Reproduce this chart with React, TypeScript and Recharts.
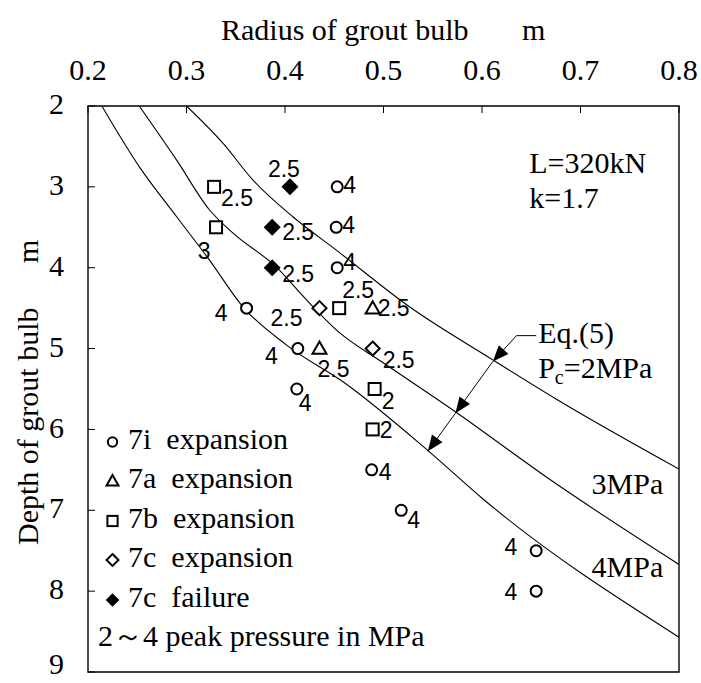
import React from "react";
import {
  ComposedChart,
  Line,
  Scatter,
  XAxis,
  YAxis,
  ReferenceArea,
  ReferenceDot,
  Legend,
} from "recharts";

const serif = "'Liberation Serif', 'Times New Roman', serif";
const sans = "'Liberation Sans', Arial, sans-serif";

const xTicks = [0.2, 0.3, 0.4, 0.5, 0.6, 0.7, 0.8];
const yTicks = [2, 3, 4, 5, 6, 7, 8, 9];

// Eq.(5) curves: radius of grout bulb (m) against depth (m)
const curve2MPa = [
  { x: 0.3, y: 2.0 }, { x: 0.337, y: 2.46 }, { x: 0.367, y: 2.91 }, { x: 0.408, y: 3.37 },
  { x: 0.455, y: 3.81 }, { x: 0.526, y: 4.48 }, { x: 0.611, y: 5.14 }, { x: 0.676, y: 5.63 },
  { x: 0.8, y: 6.49 },
];
const curve3MPa = [
  { x: 0.252, y: 2.0 }, { x: 0.29, y: 2.67 }, { x: 0.323, y: 3.28 }, { x: 0.347, y: 3.57 },
  { x: 0.391, y: 3.99 }, { x: 0.422, y: 4.4 }, { x: 0.455, y: 4.8 }, { x: 0.499, y: 5.17 },
  { x: 0.574, y: 5.79 }, { x: 0.669, y: 6.62 }, { x: 0.8, y: 7.67 },
];
const curve4MPa = [
  { x: 0.214, y: 2.0 }, { x: 0.252, y: 2.75 }, { x: 0.29, y: 3.37 }, { x: 0.323, y: 3.9 },
  { x: 0.357, y: 4.48 }, { x: 0.402, y: 4.96 }, { x: 0.46, y: 5.42 }, { x: 0.544, y: 6.25 },
  { x: 0.601, y: 6.86 }, { x: 0.8, y: 8.57 },
];

// test results, p = peak pressure in MPa
const s7i = [
  { x: 0.453, y: 3.0, p: "4" }, { x: 0.452, y: 3.5, p: "4" }, { x: 0.453, y: 4.0, p: "4" },
  { x: 0.361, y: 4.5, p: "4" }, { x: 0.413, y: 5.0, p: "4" }, { x: 0.412, y: 5.5, p: "4" },
  { x: 0.488, y: 6.5, p: "4" }, { x: 0.518, y: 7.0, p: "4" }, { x: 0.655, y: 7.5, p: "4" },
  { x: 0.655, y: 8.0, p: "4" },
];
const s7a = [
  { x: 0.489, y: 4.5, p: "2.5" }, { x: 0.435, y: 5.0, p: "2.5" },
];
const s7b = [
  { x: 0.328, y: 3.0, p: "2.5" }, { x: 0.33, y: 3.5, p: "3" }, { x: 0.455, y: 4.5, p: "2.5" },
  { x: 0.491, y: 5.5, p: "2" }, { x: 0.489, y: 6.0, p: "2" },
];
const s7cExp = [
  { x: 0.435, y: 4.5, p: "2.5" }, { x: 0.489, y: 5.0, p: "2.5" },
];
const s7cFail = [
  { x: 0.405, y: 3.0, p: "2.5" }, { x: 0.387, y: 3.5, p: "2.5" }, { x: 0.387, y: 4.0, p: "2.5" },
];

// leader of the Eq.(5) note, ends on the 2, 3 and 4 MPa curves
const eqLeader = [
  { x: 0.655, y: 4.84 }, { x: 0.635, y: 4.84 }, { x: 0.611, y: 5.16 },
  { x: 0.573, y: 5.8 }, { x: 0.545, y: 6.27 },
];

const legendRows = [
  { icon: "circle", name: "7i  expansion" },
  { icon: "triangle", name: "7a  expansion" },
  { icon: "square", name: "7b  expansion" },
  { icon: "diamond", name: "7c  expansion" },
  { icon: "filled", name: "7c  failure" },
];

// where each pressure label sits relative to its marker: dx, dy, anchor
type Off = [number, number, "start" | "middle" | "end"];
const off7i: Off[] = [
  [6, -2, "start"], [6, -2, "start"], [6, -6, "start"], [-19, 5, "end"], [-20, 7, "end"],
  [2, 14, "start"], [7, 2, "start"], [6, 10, "start"], [-19, -4, "end"], [-19, 1, "end"],
];
const off7a: Off[] = [[5, 0, "start"], [-2, 20, "start"]];
const off7b: Off[] = [[7, 11, "start"], [-12, 24, "middle"], [3, -18, "start"], [7, 12, "start"], [7, 1, "start"]];
const off7cExp: Off[] = [[-17, 10, "end"], [10, 11, "start"]];
const off7cFail: Off[] = [[-6, -18, "middle"], [10, 5, "start"], [10, 6, "start"]];

const drawIcon = (kind: string, cx: number, cy: number, s = 1) => {
  if (kind === "circle")
    return <circle cx={cx} cy={cy} r={5.5 * s} fill="#fff" stroke="#000" strokeWidth={2} />;
  if (kind === "triangle") {
    const h = 7 * s;
    return (
      <polygon
        points={`${cx},${cy - h} ${cx - h},${cy + h * 0.75} ${cx + h},${cy + h * 0.75}`}
        fill="#fff" stroke="#000" strokeWidth={2} strokeLinejoin="miter"
      />
    );
  }
  if (kind === "square")
    return <rect x={cx - 6 * s} y={cy - 6 * s} width={12 * s} height={12 * s} fill="#fff" stroke="#000" strokeWidth={2} />;
  if (kind === "diamond") {
    const h = 7 * s;
    return <polygon points={`${cx},${cy - h} ${cx + h},${cy} ${cx},${cy + h} ${cx - h},${cy}`} fill="#fff" stroke="#000" strokeWidth={2} />;
  }
  const h = 8.5 * s;
  return <polygon points={`${cx},${cy - h} ${cx + h},${cy} ${cx},${cy + h} ${cx - h},${cy}`} fill="#000" />;
};

const marker = (kind: string, data: { x: number; y: number; p: string }[], offs: Off[]) => (props: any) => {
  const { cx, cy, payload } = props;
  const i = data.findIndex((d) => d.x === payload.x && d.y === payload.y);
  const [dx, dy, anchor] = offs[i] ?? [8, 0, "start"];
  return (
    <g>
      {drawIcon(kind, cx, cy)}
      <text x={cx + dx} y={cy + dy} textAnchor={anchor} dominantBaseline="central" fontFamily={sans} fontSize={23} fill="#000">
        {payload.p}
      </text>
    </g>
  );
};

const ArrowDot = (props: any) => {
  const { cx, cy, index, points } = props;
  if (index < 2 || !points || !points[index - 1]) return <g key={`a${index}`} />;
  const prev = points[index - 1];
  const ang = Math.atan2(cy - prev.y, cx - prev.x);
  const L = 16, W = 6.5;
  const bx = cx - L * Math.cos(ang), by = cy - L * Math.sin(ang);
  const nx = -Math.sin(ang) * W, ny = Math.cos(ang) * W;
  return (
    <polygon key={`a${index}`} points={`${cx},${cy} ${bx + nx},${by + ny} ${bx - nx},${by - ny}`} fill="#000" />
  );
};

const note = (text: React.ReactNode, anchor: "start" | "end" = "start") => (p: any) => (
  <text x={p.cx} y={p.cy} textAnchor={anchor} fontFamily={serif} fontSize={30} fill="#000">
    {text}
  </text>
);

// keep the last label ("9") clear of the picture's bottom edge
const YTick = (p: any) => (
  <text x={p.x} y={Math.min(p.y - 2, 664)} dy="0.34em" textAnchor="end" fontFamily={serif} fontSize={30} fill="#000">
    {p.payload.value}
  </text>
);

const renderLegend = () => (
  <div style={{ fontFamily: serif, fontSize: 30, color: "#000", whiteSpace: "pre" }}>
    {legendRows.map((r) => (
      <div key={r.name} style={{ display: "flex", alignItems: "center", height: 39.5 }}>
        <svg width={31} height={24} style={{ position: "relative", top: 3 }}>
          {drawIcon(r.icon, 15.5, 12, r.icon === "filled" ? 0.8 : 0.85)}
        </svg>
        <span>{r.name}</span>
      </div>
    ))}
    <div style={{ height: 39.5, display: "flex", alignItems: "center", marginLeft: 1 }}>
      <span>2～4 peak pressure in MPa</span>
    </div>
  </div>
);

const XTitle = (p: any) => {
  const vb = p.viewBox || { x: 88, y: 46 };
  return (
    <g fontFamily={serif} fontSize={30} fill="#000">
      <text x={vb.x + 133} y={vb.y - 6}>Radius of grout bulb</text>
      <text x={vb.x + 434} y={vb.y - 6}>m</text>
    </g>
  );
};

const YTitle = () => (
  <g fontFamily={serif} fontSize={30} fill="#000">
    <text transform="translate(38,545) rotate(-90)">Depth of grout bulb</text>
    <text transform="translate(38,263) rotate(-90)">m</text>
  </g>
);

const curveProps = {
  dataKey: "y",
  type: "monotone" as const,
  stroke: "#000",
  strokeWidth: 1.1,
  dot: false,
  activeDot: false,
  isAnimationActive: false,
  legendType: "none" as const,
};

export default function App() {
  return (
    <div style={{ position: "absolute", left: 0, top: 0, width: 701, height: 683, background: "#fff" }}>
      <ComposedChart width={701} height={683} margin={{ top: 46, right: 22, bottom: 11, left: 0 }}>
        <XAxis
          type="number"
          dataKey="x"
          orientation="top"
          domain={[0.2, 0.8]}
          ticks={xTicks}
          interval={0}
          allowDataOverflow
          height={60}
          axisLine={false}
          tickSize={-7}
          tickMargin={33}
          tickLine={{ stroke: "#000" }}
          tick={{ fill: "#000", fontSize: 30, fontFamily: serif }}
          tickFormatter={(v: number) => v.toFixed(1)}
          label={XTitle}
        />
        <YAxis
          type="number"
          dataKey="y"
          reversed
          domain={[2, 9]}
          ticks={yTicks}
          interval={0}
          allowDataOverflow
          width={88}
          axisLine={false}
          tickSize={-7}
          tickMargin={31}
          tickLine={{ stroke: "#000" }}
          tick={YTick}
          label={YTitle}
        />
        <ReferenceArea x1={0.2} x2={0.8} y1={2} y2={9} fill="none" stroke="#000" strokeWidth={1.4} />
        <Line data={curve2MPa} name="2MPa" {...curveProps} />
        <Line data={curve3MPa} name="3MPa" {...curveProps} />
        <Line data={curve4MPa} name="4MPa" {...curveProps} />
        <Line
          data={eqLeader}
          dataKey="y"
          type="linear"
          stroke="#000"
          strokeWidth={1}
          dot={ArrowDot}
          activeDot={false}
          isAnimationActive={false}
          legendType="none"
        />
        <Scatter data={s7i} name="7i expansion" shape={marker("circle", s7i, off7i)} isAnimationActive={false} />
        <Scatter data={s7a} name="7a expansion" shape={marker("triangle", s7a, off7a)} isAnimationActive={false} />
        <Scatter data={s7b} name="7b expansion" shape={marker("square", s7b, off7b)} isAnimationActive={false} />
        <Scatter data={s7cExp} name="7c expansion" shape={marker("diamond", s7cExp, off7cExp)} isAnimationActive={false} />
        <Scatter data={s7cFail} name="7c failure" shape={marker("filled", s7cFail, off7cFail)} isAnimationActive={false} />
        <ReferenceDot x={0.648} y={2.83} r={0} shape={note("L=320kN")} />
        <ReferenceDot x={0.648} y={3.26} r={0} shape={note("k=1.7")} />
        <ReferenceDot x={0.657} y={4.93} r={0} shape={note("Eq.(5)")} />
        <ReferenceDot
          x={0.657}
          y={5.36}
          r={0}
          shape={note(
            <>
              P<tspan fontSize={20} dy={6}>c</tspan>
              <tspan dy={-6}>=2MPa</tspan>
            </>
          )}
        />
        <ReferenceDot x={0.784} y={6.8} r={0} shape={note("3MPa", "end")} />
        <ReferenceDot x={0.784} y={7.83} r={0} shape={note("4MPa", "end")} />
        <Legend
          layout="vertical"
          align="center"
          verticalAlign="middle"
          content={renderLegend}
          wrapperStyle={{ left: 97, top: 419, width: 400, height: "auto" }}
        />
      </ComposedChart>
    </div>
  );
}
